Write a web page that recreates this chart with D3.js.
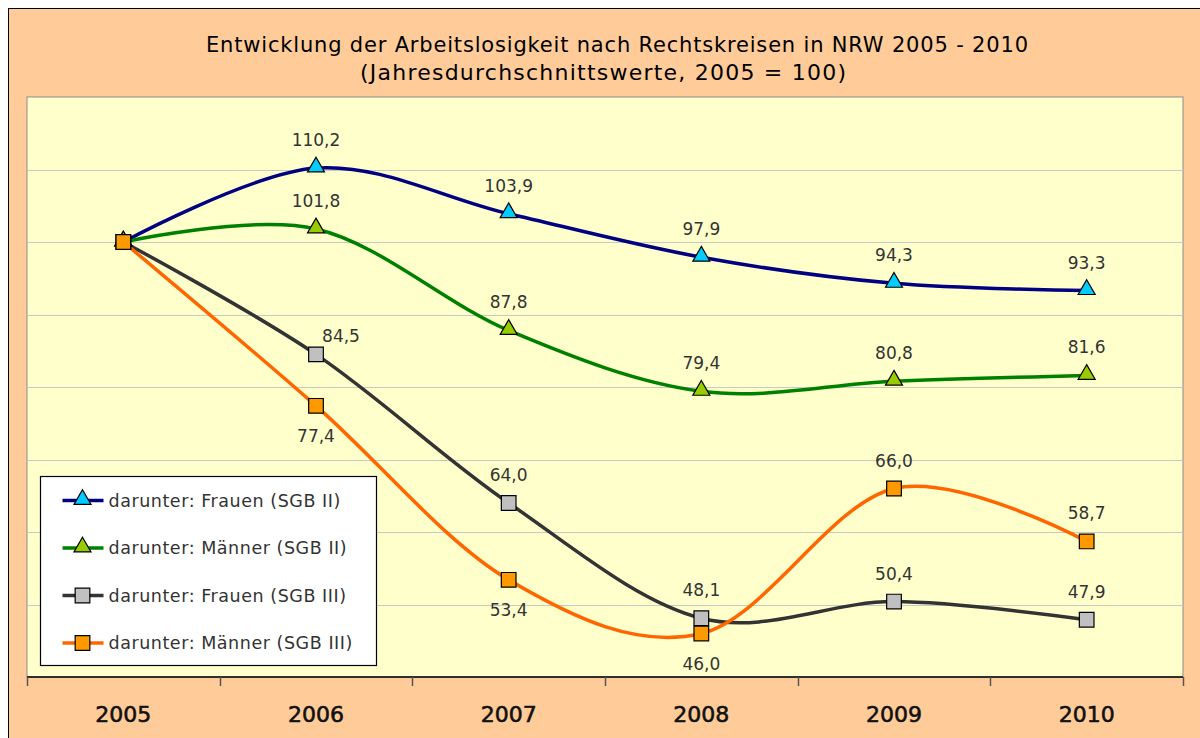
<!DOCTYPE html>
<html>
<head>
<meta charset="utf-8">
<script src="https://cdn.jsdelivr.net/npm/d3@7"></script>
<style>
  body { margin: 0; background: #fff; }
  svg text { font-family: "DejaVu Sans", sans-serif; }
</style>
</head>
<body>
<svg id="chart" width="1200" height="738"></svg>
<script>
// data
var years = ["2005", "2006", "2007", "2008", "2009", "2010"];
var seriesNames = [
  "darunter: Frauen (SGB II)",
  "darunter: Männer (SGB II)",
  "darunter: Frauen (SGB III)",
  "darunter: Männer (SGB III)"
];
var frauenSGB2 = [100, 110.2, 103.9, 97.9, 94.3, 93.3];
var maennerSGB2 = [100, 101.8, 87.8, 79.4, 80.8, 81.6];
var frauenSGB3 = [100, 84.5, 64.0, 48.1, 50.4, 47.9];
var maennerSGB3 = [100, 77.4, 53.4, 46.0, 66.0, 58.7];
var yTicks = [40, 50, 60, 70, 80, 90, 100, 110, 120];

var svg = d3.select("#chart"),
    margin = { left: 27, right: 17, top: 97, bottom: 61 },
    width = 1200 - margin.left - margin.right,
    height = 738 - margin.top - margin.bottom;

// outer chart area
svg.append("rect")
    .attr("x", 8.5).attr("y", 8.5)
    .attr("width", 1200).attr("height", 740)
    .attr("fill", "#ffcc99")
    .attr("stroke", "#000").attr("stroke-width", 1);

svg.append("text")
    .attr("x", 617).attr("y", 52)
    .attr("text-anchor", "middle")
    .style("font-size", "21px")
    .attr("textLength", 822).attr("lengthAdjust", "spacing")
    .attr("fill", "#000")
    .text("Entwicklung der Arbeitslosigkeit nach Rechtskreisen in NRW 2005 - 2010");
svg.append("text")
    .attr("x", 603).attr("y", 80)
    .attr("text-anchor", "middle")
    .style("font-size", "22px")
    .attr("textLength", 486).attr("lengthAdjust", "spacing")
    .attr("fill", "#000")
    .text("(Jahresdurchschnittswerte, 2005 = 100)");

var g = svg.append("g").attr("transform", "translate(" + margin.left + "," + margin.top + ")");

var x = d3.scaleBand().domain(years).range([0, width]);
var y = d3.scaleLinear().domain([40, 120]).range([height, 0]);

g.append("rect")
    .attr("width", width).attr("height", height)
    .attr("fill", "#ffffcc")
    .attr("stroke", "#8c8c8c").attr("stroke-width", 1);

g.selectAll(".grid")
    .data(yTicks.filter(function (d) { return d > 40 && d < 120; }))
    .enter().append("line")
    .attr("class", "grid")
    .attr("x1", 0).attr("x2", width)
    .attr("y1", function (d) { return Math.round(y(d)) + 0.5; })
    .attr("y2", function (d) { return Math.round(y(d)) + 0.5; })
    .attr("stroke", "#c8c8c8").attr("stroke-width", 1.2);

// x axis with ticks between categories
var xAxis = g.append("g").attr("transform", "translate(0," + height + ")");
xAxis.append("line")
    .attr("x1", 0).attr("x2", width)
    .attr("stroke", "#000").attr("stroke-width", 1.5);
xAxis.selectAll(".tick")
    .data(d3.range(years.length + 1))
    .enter().append("line")
    .attr("x1", function (i) { return Math.round(i * x.step()) + 0.5; })
    .attr("x2", function (i) { return Math.round(i * x.step()) + 0.5; })
    .attr("y1", 0).attr("y2", 9)
    .attr("stroke", "#555").attr("stroke-width", 1.5);
xAxis.selectAll(".lbl")
    .data(years)
    .enter().append("text")
    .attr("x", function (d) { return x(d) + x.bandwidth() / 2; })
    .attr("y", 45)
    .attr("text-anchor", "middle")
    .style("font-size", "22px")
    .attr("fill", "#111")
    .attr("stroke", "#111").attr("stroke-width", 0.6)
    .text(function (d) { return d; });

var series = [
  { name: seriesNames[0], values: frauenSGB2, line: "#000080", fill: "#00ccff", shape: "triangle",
    pos: ["none", "above", "above", "above", "above", "above"] },
  { name: seriesNames[1], values: maennerSGB2, line: "#008000", fill: "#99cc00", shape: "triangle",
    pos: ["none", "above", "above", "above", "above", "above"] },
  { name: seriesNames[2], values: frauenSGB3, line: "#333333", fill: "#c0c0c0", shape: "square",
    pos: ["none", "right", "above", "above", "above", "above"] },
  { name: seriesNames[3], values: maennerSGB3, line: "#ff6600", fill: "#ff9900", shape: "square",
    pos: ["none", "below", "below", "below", "above", "above"] }
];

var line = d3.line()
    .x(function (d, i) { return x(years[i]) + x.bandwidth() / 2; })
    .y(function (d) { return y(d); })
    .curve(d3.curveCatmullRom.alpha(0));

var symTri = d3.symbol().type(d3.symbolTriangle).size(125);
var symSq = d3.symbol().type(d3.symbolSquare).size(215);

function marker(sel, s) {
  sel.append("path")
      .attr("d", s.shape === "triangle" ? symTri() : symSq())
      .attr("transform", s.shape === "triangle" ? "translate(0,-1)" : null)
      .attr("fill", s.fill)
      .attr("stroke", "#000").attr("stroke-width", 1.2);
}

series.forEach(function (s) {
  g.append("path")
      .datum(s.values)
      .attr("d", line)
      .attr("fill", "none")
      .attr("stroke", s.line)
      .attr("stroke-width", 3.5);
});

// markers drawn after lines so they sit on top
series.forEach(function (s) {
  s.values.forEach(function (v, i) {
    var m = g.append("g")
        .attr("transform", "translate(" + (x(years[i]) + x.bandwidth() / 2) + "," + y(v) + ")");
    marker(m, s);
  });
});

series.forEach(function (s) {
  s.values.forEach(function (v, i) {
    var p = s.pos[i];
    if (p === "none") return;
    var cx = x(years[i]) + x.bandwidth() / 2, cy = y(v);
    var tx = cx, ty = cy - 22;
    if (p === "below") ty = cy + 36;
    if (p === "right") { tx = cx + 25; ty = cy - 12; }
    g.append("text")
        .attr("x", tx).attr("y", ty)
        .attr("text-anchor", "middle")
        .style("font-size", "17px")
        .attr("fill", "#333")
        .text(d3.format(".1f")(v).replace(".", ","));
  });
});

// legend
var legend = svg.append("g").attr("transform", "translate(40.5,476.5)");
legend.append("rect")
    .attr("width", 336).attr("height", 189)
    .attr("fill", "#fff")
    .attr("stroke", "#000").attr("stroke-width", 1.2);
series.forEach(function (s, i) {
  var row = legend.append("g").attr("transform", "translate(0," + (24 + i * 47.5) + ")");
  row.append("line")
      .attr("x1", 22).attr("x2", 63)
      .attr("stroke", s.line).attr("stroke-width", 3.5);
  var m = row.append("g").attr("transform", "translate(42,0)");
  marker(m, s);
  row.append("text")
      .attr("x", 68).attr("y", 6)
      .style("font-size", "17.5px")
      .style("letter-spacing", "0.55px")
      .attr("fill", "#333")
      .text(s.name);
});
</script>
</body>
</html>
